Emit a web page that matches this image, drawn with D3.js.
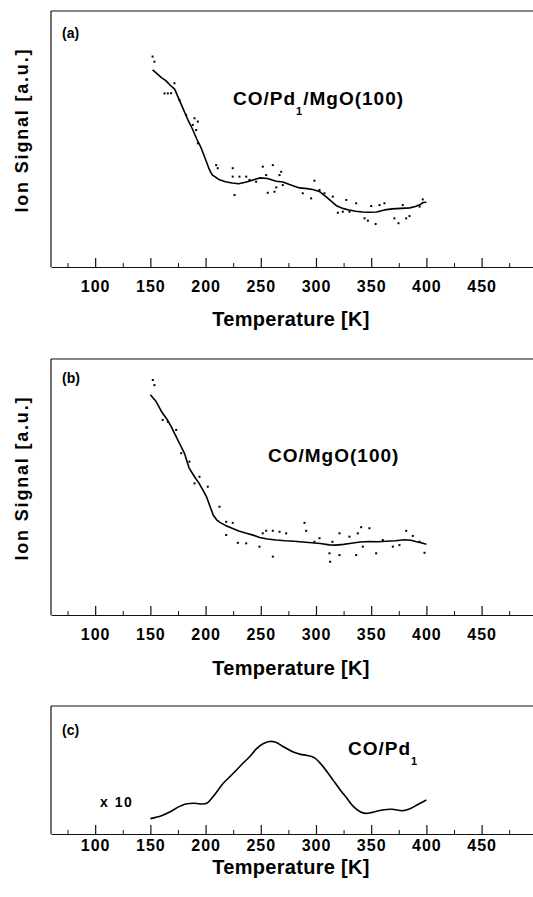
<!DOCTYPE html>
<html>
<head>
<meta charset="utf-8">
<script src="https://cdn.jsdelivr.net/npm/d3@7"></script>
<style>
  body { margin: 0; background: #fff; }
  svg { display: block; font-family: "Liberation Sans", Arial, sans-serif; }
</style>
</head>
<body>
<svg id="chart"></svg>
<script>
// tick values for the shared temperature axis
const majorTicks = [100, 150, 200, 250, 300, 350, 400, 450];
const minorTicks = [75, 125, 175, 225, 275, 325, 375, 425, 475];

// (a) CO/Pd1/MgO(100): smoothed trace
const tempA = [152, 156, 160, 164, 168, 172, 176, 180, 184, 188, 192, 196, 200, 203.5, 206, 212, 218, 224, 230, 237,
  243, 249, 256, 264, 270, 276, 285, 292, 297, 303, 309, 314, 319, 325, 330, 336, 342, 348, 355, 362, 369, 377, 385,
  390, 394, 397, 400];
const signalA = [77, 75.5, 74, 72.8, 71, 69.5, 65.5, 61.5, 57.5, 54, 50, 46.5, 42, 38, 36, 34.2, 33.3, 32.8, 32.5, 33.2,
  34, 34.8, 34.6, 33.5, 33.2, 32.2, 30.9, 30.6, 30.3, 29.5, 27.5, 25.6, 23.8, 22.8, 22.3, 21.8, 21.5, 21.4, 21.5, 22.3,
  22.7, 22.9, 23.1, 23.6, 24.3, 25.2, 25.3];
// (a) raw points
const dotTempA = [152, 153.7, 162.8, 165.8, 168.8, 171.8, 176.4, 182.4, 188.4, 190, 193, 191.5, 193, 209.6, 211, 224.6,
  224.6, 226.2, 230.7, 236.8, 239.8, 245.8, 251.8, 254.9, 256.3, 260.9, 262.4, 264, 267, 268.5, 269.9, 288, 295.6,
  298.6, 303.2, 307.7, 315.2, 319.8, 324.3, 327.4, 330.3, 336.4, 344, 347, 350, 354, 357.5, 362, 371, 374.7, 378.6,
  381.7, 384.7, 393.8, 396.7];
const dotSignalA = [82.2, 80.2, 67.8, 67.8, 67.9, 71.8, 65.2, 59.4, 55.5, 58.1, 56.8, 53.5, 48.3, 39.8, 38.6, 38.6,
  35.3, 28.1, 35.3, 35.3, 34, 33.3, 39.2, 35.9, 29, 39.8, 29.4, 31.1, 35.9, 37.2, 32, 28.8, 26.8,
  33.7, 30.1, 28.8, 27.5, 21.2, 21.6, 26.2, 21.6, 24.9, 19, 18.1, 23.8, 16.8, 24.2, 24.9, 19, 17.1, 24.2,
  19, 19.9, 23.6, 26.4];

// (b) CO/MgO(100): smoothed trace
const tempB = [150, 155, 160, 165, 169, 173, 177, 181, 185, 190, 194, 198, 201, 204, 207, 210, 213, 218, 224, 230, 237,
  243, 249, 256, 264, 272, 280, 288, 296, 304, 312, 318, 325, 332, 340, 348, 356, 364, 372, 380, 386, 391, 396, 400];
const signalB = [86, 83.5, 79.5, 76.5, 73.5, 70, 66.5, 63, 57.5, 54, 51.5, 48.5, 46, 42.5, 39, 37.2, 36.2, 35, 33.9,
  32.8, 31.9, 31.2, 30.3, 29.7, 29.3, 29, 28.8, 28.5, 28.2, 27.9, 27.4, 27.3, 27.6, 28, 28.5, 28.7, 28.6, 28.8, 29,
  29.4, 29.2, 28.6, 28.1, 27.6];
// (b) raw points
const dotTempB = [152.2, 153.7, 161.2, 165.8, 173.4, 177.9, 185.4, 190, 194.5, 202, 212.6, 218.7, 224.6, 218.7, 229.2,
  236.8, 248.8, 251.8, 254.9, 260.9, 260.9, 267, 273, 289.6, 291.1, 298.6, 303.2, 312.2, 312.8, 314.9, 321.3, 321.3,
  330.3, 336.4, 337.9, 340.9, 342.4, 348.4, 354.5, 360.5, 369.6, 375.6, 381.7, 387.7, 393.8, 398.3];
const dotSignalB = [91.8, 89.8, 76.2, 75.5, 72.3, 63.2, 59.9, 51.4, 54, 50.1, 42.3, 36.4, 36, 31.25, 28.2,
  28, 26.7, 31.9, 32.9, 32.9, 22.8, 32.5, 31.9, 36, 32.9, 28.6, 30, 24.1, 20.8, 28.6, 23.4, 31.9,
  30.6, 23.4, 31.9, 34.3, 26.7, 33.9, 24.1, 29.3, 26.7, 27.3, 32.9, 30.9, 28.6, 24.3];

// (c) CO/Pd1 difference trace (x10)
const tempC = [150, 160, 168, 176, 182, 190, 197, 201, 208, 216, 224, 233, 240, 246, 252, 258, 263, 271, 280, 286, 292,
  298, 304, 310, 316, 322, 328, 334, 340, 345, 351, 360, 369, 378, 384, 393, 400];
const signalC = [12, 14.3, 17.4, 21.4, 23.4, 24, 23.4, 24, 30.5, 39.6, 46.5, 54.5, 60.5, 66.5, 70.5, 72.3, 71.8, 68,
  63.8, 62.2, 61.4, 59.9, 55.2, 48.7, 41.5, 34.4, 27.9, 21.4, 17.4, 16.1, 16.9, 18.75, 19.3, 18.2, 19.3, 23.4, 26.6];

const W = 533, H = 897;
const svg = d3.select("#chart").attr("width", W).attr("height", H);

const x = d3.scaleLinear().domain([60, 500]).range([51, 536.8]);
const left = x(60);

function drawPanel(opt) {
    const g = svg.append("g");
    const y = d3.scaleLinear().domain([0, 100]).range([opt.bottom, opt.top]);

    // frame: left and top edges
    g.append("line")
        .attr("x1", left).attr("x2", left)
        .attr("y1", opt.top).attr("y2", opt.bottom)
        .attr("stroke", "#111").attr("stroke-width", 1.2);
    g.append("line")
        .attr("x1", left).attr("x2", W)
        .attr("y1", opt.top).attr("y2", opt.top)
        .attr("stroke", "#111").attr("stroke-width", 1.2);

    // bottom axis, ticks pointing inwards
    const ax = g.append("g")
        .attr("transform", `translate(0, ${opt.bottom})`)
        .call(d3.axisBottom(x)
            .tickValues(majorTicks)
            .tickSize(-9)
            .tickSizeOuter(0)
            .tickPadding(opt.pad)
            .tickFormat(d3.format("d")));
    ax.select(".domain").attr("stroke", "#111").attr("stroke-width", 1.2);
    ax.selectAll(".tick line").attr("stroke", "#111").attr("stroke-width", 1.2);
    ax.selectAll("text")
        .attr("font-family", "Liberation Sans, Arial, sans-serif")
        .attr("font-size", 16)
        .attr("font-weight", "bold")
        .attr("letter-spacing", 1)
        .attr("fill", "#000");

    const minor = g.append("g")
        .attr("transform", `translate(0, ${opt.bottom})`)
        .call(d3.axisBottom(x).tickValues(minorTicks).tickSize(-4).tickFormat(""));
    minor.select(".domain").remove();
    minor.selectAll(".tick line").attr("stroke", "#111").attr("stroke-width", 1);

    g.append("text")
        .attr("x", 291).attr("y", opt.bottom + opt.titleOffset)
        .attr("text-anchor", "middle")
        .attr("font-size", 20).attr("font-weight", "bold")
        .attr("letter-spacing", 0.3)
        .text("Temperature [K]");

    if (opt.ylabel) {
        g.append("text")
            .attr("transform", `translate(28, ${(opt.top + opt.bottom) / 2 - 8}) rotate(-90)`)
            .attr("text-anchor", "middle")
            .attr("font-size", 18).attr("font-weight", "bold")
            .attr("textLength", 163).attr("lengthAdjust", "spacing")
            .text("Ion Signal [a.u.]");
    }

    g.append("text")
        .attr("x", 62).attr("y", opt.top + opt.letterDy)
        .attr("font-size", 14).attr("font-weight", "bold")
        .text(opt.letter);

    if (opt.dotsT) {
        g.selectAll(".dot")
            .data(d3.zip(opt.dotsT, opt.dotsS))
            .enter()
            .append("rect")
            .attr("class", "dot")
            .attr("x", d => x(d[0]) - 1)
            .attr("y", d => y(d[1]) - 1)
            .attr("width", 2)
            .attr("height", 2)
            .attr("fill", "#000");
    }

    const line = d3.line()
        .x(d => x(d[0]))
        .y(d => y(d[1]))
        .curve(opt.smooth ? d3.curveCatmullRom : d3.curveLinear);

    g.append("path")
        .datum(d3.zip(opt.temps, opt.signal))
        .attr("d", line)
        .attr("fill", "none")
        .attr("stroke", "#000")
        .attr("stroke-width", 1.6)
        .attr("stroke-linejoin", "round");

    return g;
}

const gA = drawPanel({top: 11, bottom: 267, pad: 14, titleOffset: 59, ylabel: true, letter: "(a)", letterDy: 27,
    temps: tempA, signal: signalA, dotsT: dotTempA, dotsS: dotSignalA});
const gB = drawPanel({top: 359, bottom: 615, pad: 14, titleOffset: 60, ylabel: true, letter: "(b)", letterDy: 24,
    temps: tempB, signal: signalB, dotsT: dotTempB, dotsS: dotSignalB});
const gC = drawPanel({top: 706, bottom: 834, pad: 6, titleOffset: 40, ylabel: false, letter: "(c)", letterDy: 29,
    temps: tempC, signal: signalC, smooth: true});

// curve annotations
function label(g, px, py, main, sub, rest) {
    const t = g.append("text")
        .attr("x", px).attr("y", py)
        .attr("font-size", 19)
        .attr("font-weight", "bold")
        .attr("letter-spacing", 1)
        .attr("fill", "#000");
    t.append("tspan").text(main);
    if (sub) {
        t.append("tspan").attr("font-size", 11).attr("dy", 10).text(sub);
        if (rest) t.append("tspan").attr("dy", -10).text(rest);
    }
}
label(gA, 233, 105, "CO/Pd", "1", "/MgO(100)");
label(gB, 268, 462, "CO/MgO(100)");
label(gC, 348, 755, "CO/Pd", "1");

gC.append("text")
    .attr("x", 100).attr("y", 807)
    .attr("font-size", 14)
    .attr("font-weight", "bold")
    .attr("letter-spacing", 1.5)
    .text("x 10");
</script>
</body>
</html>
